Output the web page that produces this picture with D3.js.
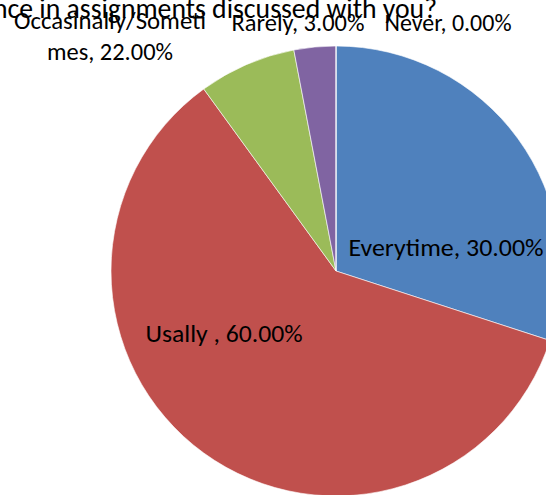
<!DOCTYPE html>
<html><head><meta charset="utf-8">
<script src="https://cdn.jsdelivr.net/npm/d3@7"></script>
<style>body{margin:0;background:#fff;overflow:hidden}svg{display:block}</style>
</head><body>
<svg id="c" width="546" height="495"></svg>
<script>
const categories = ["Everytime", "Usally ", "Occasinally/Sometimes", "Rarely", "Never"];
const values = [30, 60, 7, 3, 0];
const labelPercents = ["30.00%", "60.00%", "22.00%", "3.00%", "0.00%"];
const colors = ["#4F81BD", "#C0504D", "#9BBB59", "#8064A2", "#F79646"];
const titleText = "nce in assignments discussed with you?";

const svg = d3.select("#c");
const cx = 336, cy = 271, r = 225;
const font = "Carlito, 'Liberation Sans Narrow', 'Liberation Sans', sans-serif";

const pie = d3.pie().sort(null).value(d => d)(values);
const arc = d3.arc().innerRadius(0).outerRadius(r);
const g = svg.append("g").attr("transform", `translate(${cx},${cy})`);
g.selectAll("path").data(pie).enter().append("path")
  .attr("d", arc).attr("fill", (d, i) => colors[i])
  .attr("stroke", "#fff").attr("stroke-width", 0.6);

const labelPos = [
  {lines: [categories[0] + ", " + labelPercents[0]], x: 446, y: [256], w: [195], fs: 24},
  {lines: [categories[1] + ", " + labelPercents[1]], x: 224, y: [342], w: [157], fs: 24},
  {lines: ["Occasinally/Someti", "mes, " + labelPercents[2]], x: 110, y: [29, 60], w: [192, 126], fs: 25},
  {lines: [categories[3] + ", " + labelPercents[3]], x: 298, y: [31], w: [133], fs: 25},
  {lines: [categories[4] + ", " + labelPercents[4]], x: 448, y: [31], w: [127], fs: 25}
];
labelPos.forEach(L => {
  L.lines.forEach((t, j) => {
    svg.append("text").attr("x", L.x).attr("y", L.y[j])
      .attr("text-anchor", "middle").attr("font-family", font)
      .attr("font-size", L.fs).attr("fill", "#000")
      .attr("textLength", L.w[j]).attr("lengthAdjust", "spacingAndGlyphs")
      .text(t);
  });
});

svg.append("text").attr("x", 437).attr("y", 18).attr("text-anchor", "end")
  .attr("font-family", font).attr("font-size", 29).attr("fill", "#000")
  .attr("textLength", 444).attr("lengthAdjust", "spacingAndGlyphs")
  .text(titleText);
</script>
</body></html>
